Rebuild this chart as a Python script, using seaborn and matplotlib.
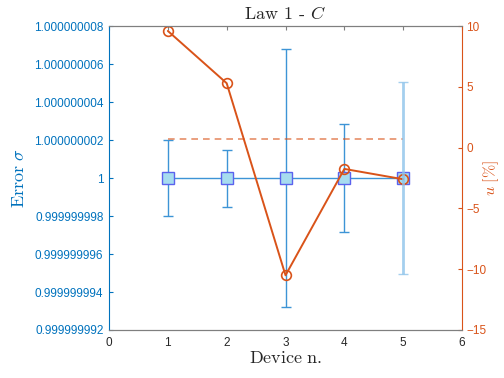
import numpy as np
import pandas as pd
import matplotlib
matplotlib.use("Agg")
import matplotlib.pyplot as plt
import seaborn as sns
from matplotlib.ticker import FuncFormatter

sns.set_style("white")
plt.rcParams['font.family'] = ['Liberation Sans', 'DejaVu Sans']
plt.rcParams['mathtext.fontset'] = 'cm'

# ---- data ----
devices = [1, 2, 3, 4, 5]
sigma = [1.0, 1.0, 1.0, 1.0, 1.0]
sigma_err = [2.0e-9, 1.5e-9, 6.8e-9, 2.84e-9, 5.05e-9]
u_pct = [9.6, 5.3, -10.5, -1.75, -2.6]
u_ref = 0.7
left_ticks = [0.999999992, 0.999999994, 0.999999996, 0.999999998, 1.0,
              1.000000002, 1.000000004, 1.000000006, 1.000000008]
x_ticks = [0, 1, 2, 3, 4, 5, 6]
right_ticks = [-15, -10, -5, 0, 5, 10]

BLUE = '#0072BD'
ORANGE = '#D95319'
GRAY = '#7f7f7f'

df = pd.DataFrame({'device': devices, 'sigma': sigma, 'err': sigma_err, 'u': u_pct})

fig = plt.figure(figsize=(5.04, 3.78), dpi=100)
ax = fig.add_axes([0.2163, 0.127, 0.7004, 0.804])
ax2 = ax.twinx()

# left axis: error sigma
ax.errorbar(df['device'][:4], df['sigma'][:4], yerr=df['err'][:4], fmt='none',
            ecolor='#3d94d6', elinewidth=1.0, capsize=3.5, capthick=1.0, zorder=2)
sns.lineplot(data=df, x='device', y='sigma', ax=ax, color='#3d94d6', lw=1.0,
             marker='s', markersize=9, markerfacecolor='#a6dcef',
             markeredgecolor='#5b62ee', markeredgewidth=1.0, zorder=3)

# right axis: u [%]
ax2.hlines(u_ref, devices[0], devices[-1], colors=ORANGE, linestyles=(0, (4, 3)),
           lw=1.2, alpha=0.65)
sns.lineplot(data=df, x='device', y='u', ax=ax2, color=ORANGE, lw=1.4,
             marker='o', markersize=7, markerfacecolor='none',
             markeredgecolor=ORANGE, markeredgewidth=1.2)

# last error bar drawn lighter on top
lo = (sigma[4] - sigma_err[4] - 0.999999992) / 16e-9 * 25 - 15
hi = (sigma[4] + sigma_err[4] - 0.999999992) / 16e-9 * 25 - 15
ax2.errorbar([devices[4]], [(lo + hi) / 2], yerr=[(hi - lo) / 2], fmt='none',
             ecolor='#8ec3ea', elinewidth=2.0, capsize=3.5, capthick=1.0, alpha=0.8)

ax.set_xlim(0, 6)
ax.set_ylim(0.999999992, 1.000000008)
ax2.set_ylim(-15, 10)
ax.set_xticks(x_ticks)
ax.set_yticks(left_ticks)
ax2.set_yticks(right_ticks)
ax.yaxis.set_major_formatter(FuncFormatter(lambda v, p: (f"{v:.9f}".rstrip('0').rstrip('.'))))

ax.set_xlabel(r'$\mathrm{Device\ n.}$', fontsize=13, color='#262626', labelpad=1)
ax.set_ylabel(r'$\mathrm{Error}\ \sigma$', fontsize=13, color=BLUE, labelpad=4)
ax2.set_ylabel(r'$u\ \mathrm{[\%]}$', fontsize=11.5, color=ORANGE)
ax2.yaxis.label.set_va('center')
ax2.yaxis.label.set_ha('center')
ax2.yaxis.label.set_rotation_mode('default')
ax2.yaxis.set_label_coords(1.082, 0.5)
ax.set_title('Law 1 - $C$', fontsize=13, family='cmr10', color='#262626', pad=5)

ax.tick_params(axis='x', direction='in', length=3, colors=GRAY, labelcolor='#262626',
               labelsize=8.5, top=True, pad=5)
ax.tick_params(axis='y', direction='in', length=3, colors=BLUE, labelcolor=BLUE,
               labelsize=8.5, pad=4)
ax2.tick_params(axis='y', direction='in', length=3, colors=ORANGE, labelcolor=ORANGE,
                labelsize=8.5, pad=3)

for a in (ax, ax2):
    for s in a.spines.values():
        s.set_linewidth(0.8)
    a.spines['top'].set_color(GRAY)
    a.spines['bottom'].set_color(GRAY)
ax.spines['left'].set_color(BLUE)
ax.spines['right'].set_visible(False)
ax2.spines['left'].set_visible(False)
ax2.spines['right'].set_color(ORANGE)
ax.grid(False)
ax2.grid(False)
if ax.get_legend():
    ax.get_legend().remove()

fig.savefig('out.png', dpi=100)
